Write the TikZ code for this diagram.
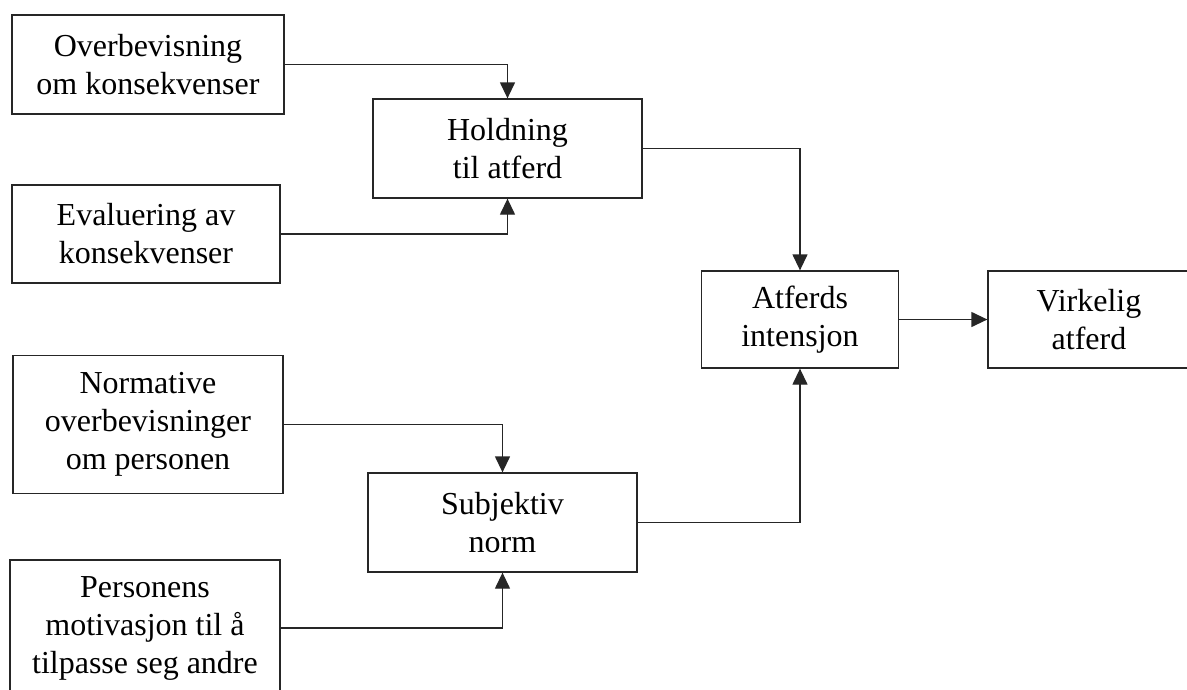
\documentclass[tikz,border=0pt]{standalone}
\usepackage{fontspec}
\setmainfont{Liberation Serif}
\usetikzlibrary{arrows.meta}
\begin{document}
\begin{tikzpicture}[x=1pt,y=-1pt,
  box/.style={draw=black!85,line width=1.3pt,inner sep=0pt,align=center,
    font=\fontsize{32}{38}\selectfont,text=black},
  conn/.style={draw=black!85,line width=1.3pt,
    -{Triangle[width=15pt,length=16pt]}}]
\useasboundingbox (0,0) rectangle (1187,689);
\node[box,minimum width=272pt,minimum height=99pt] (b1) at (148,64.5) {Overbevisning\\om konsekvenser};
\node[box,minimum width=268pt,minimum height=98pt] (b2) at (146,234) {Evaluering av\\konsekvenser};
\node[box,minimum width=269pt,minimum height=99pt] (b3) at (507.5,148.5) {Holdning\\til atferd};
\node[box,minimum width=197pt,minimum height=97pt] (b4) at (800,319.5) {Atferds\\intensjon};
\node[box,minimum width=202pt,minimum height=97pt] (b5) at (1089,319.5) {Virkelig\\atferd};
\node[box,minimum width=270pt,minimum height=138pt] (b6) at (148,424.5) {Normative\\overbevisninger\\om personen};
\node[box,minimum width=269pt,minimum height=99pt] (b7) at (502.5,522.5) {Subjektiv\\norm};
\node[box,minimum width=270pt,minimum height=136pt] (b8) at (145,628) {Personens\\motivasjon til å\\tilpasse seg andre};
\draw[conn] (b1.east) -| (b3.north);
\draw[conn] (b2.east) -| (b3.south);
\draw[conn] (b3.east) -| (b4.north);
\draw[conn] (b7.east) -| (b4.south);
\draw[conn] (b6.east) -| (b7.north);
\draw[conn] (b8.east) -| (b7.south);
\draw[conn] (b4.east) -- (b5.west);
\end{tikzpicture}
\end{document}
